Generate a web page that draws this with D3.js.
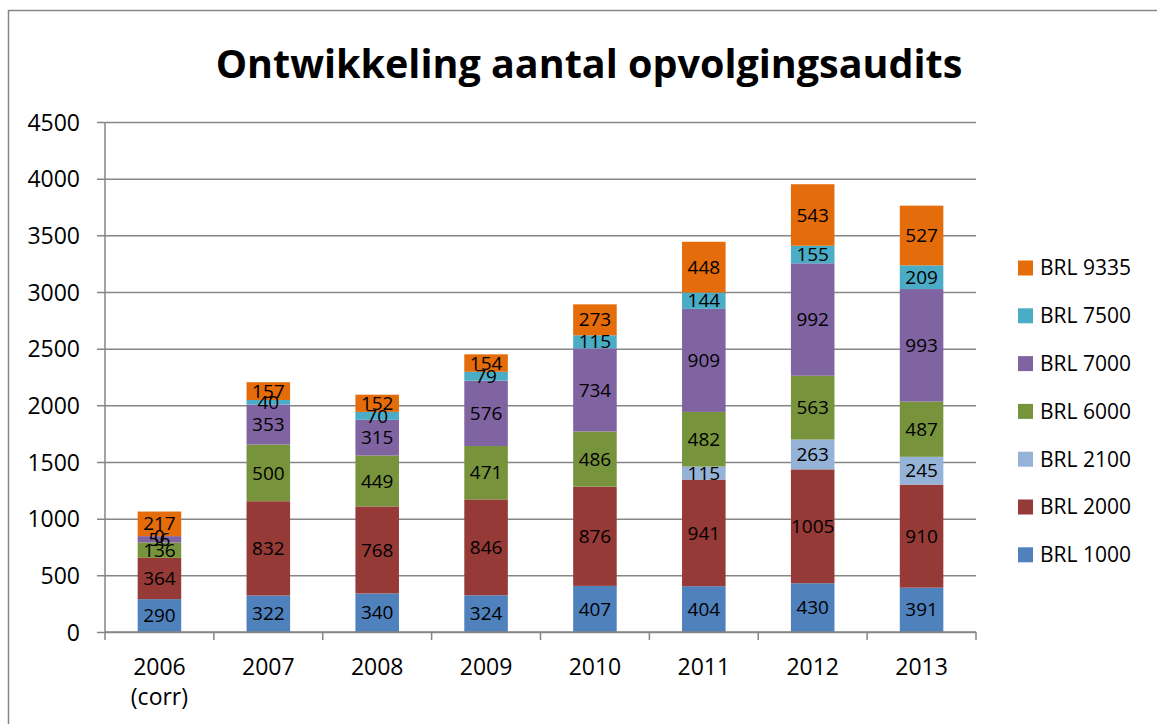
<!DOCTYPE html>
<html>
<head>
<meta charset="utf-8">
<script src="https://cdn.jsdelivr.net/npm/d3@7"></script>
<style>
  body { margin: 0; background: #fff; }
  text { font-family: 'Open Sans', sans-serif; fill: #000; }
</style>
</head>
<body>
<div id="chart"></div>
<script>
const years = ['2006\n(corr)', '2007', '2008', '2009', '2010', '2011', '2012', '2013'];
const seriesNames = ['BRL 1000', 'BRL 2000', 'BRL 2100', 'BRL 6000', 'BRL 7000', 'BRL 7500', 'BRL 9335'];
const brl1000 = [290, 322, 340, 324, 407, 404, 430, 391];
const brl2000 = [364, 832, 768, 846, 876, 941, 1005, 910];
const brl2100 = [null, null, null, null, null, 115, 263, 245];
const brl6000 = [136, 500, 449, 471, 486, 482, 563, 487];
const brl7000 = [56, 353, 315, 576, 734, 909, 992, 993];
const brl7500 = [0, 40, 70, 79, 115, 144, 155, 209];
const brl9335 = [217, 157, 152, 154, 273, 448, 543, 527];
const yTicks = [0, 500, 1000, 1500, 2000, 2500, 3000, 3500, 4000, 4500];
const colors = ['#4f81bd', '#963a37', '#95b3d7', '#77933c', '#8064a2', '#4bacc6', '#e46c0a'];

const values = [brl1000, brl2000, brl2100, brl6000, brl7000, brl7500, brl9335];
const data = years.map((y, i) => {
  const row = {year: y};
  seriesNames.forEach((s, j) => row[s] = values[j][i]);
  return row;
});

const W = 1157, H = 724;
const margin = {top: 122, right: 181, bottom: 92, left: 105};
const width = W - margin.left - margin.right;
const height = H - margin.top - margin.bottom;

const svg = d3.select('#chart')
  .append('svg')
  .attr('width', W)
  .attr('height', H);

svg.append('rect')
  .attr('x', 8.5).attr('y', 10.5)
  .attr('width', W + 10).attr('height', H + 10)
  .attr('fill', 'none')
  .attr('stroke', '#868686')
  .attr('stroke-width', 1.5);

svg.append('text')
  .attr('x', 589).attr('y', 78)
  .attr('text-anchor', 'middle')
  .style('font-size', '39.5px')
  .style('font-weight', 'bold')
  .text('Ontwikkeling aantal opvolgingsaudits');

const g = svg.append('g')
  .attr('transform', `translate(${margin.left}, ${margin.top})`);

const x = d3.scaleBand()
  .domain(years)
  .range([0, width])
  .paddingInner(0.6)
  .paddingOuter(0.3);
const y = d3.scaleLinear()
  .domain([0, 4500])
  .range([height, 0]);

// gridlines + y axis
const yAxis = g.append('g')
  .call(d3.axisLeft(y).tickValues(yTicks).tickFormat(d3.format('d'))
    .tickSize(-width - 8).tickSizeOuter(0).tickPadding(17));
yAxis.select('.domain').remove();
yAxis.selectAll('.tick line')
  .attr('x1', -8).attr('x2', width)
  .attr('stroke', '#868686').attr('stroke-width', 1.5);
yAxis.selectAll('.tick text')
  .style('font-family', 'Open Sans')
  .style('font-size', '23px')
  .attr('x', -25)
  .attr('dy', '0.35em');
g.append('line')
  .attr('x1', 0).attr('x2', 0).attr('y1', 0).attr('y2', height)
  .attr('stroke', '#868686').attr('stroke-width', 1.5);

const stack = d3.stack()
  .keys(seriesNames)
  .value((d, k) => d[k] == null ? 0 : d[k]);
const layers = stack(data);

const layer = g.selectAll('.layer')
  .data(layers)
  .join('g')
  .attr('class', 'layer')
  .attr('fill', (d, i) => colors[i]);

layer.selectAll('rect')
  .data(d => d)
  .join('rect')
  .attr('x', d => x(d.data.year))
  .attr('y', d => y(d[1]))
  .attr('width', x.bandwidth())
  .attr('height', d => y(d[0]) - y(d[1]));

// x axis
const xAxis = g.append('g')
  .attr('transform', `translate(0, ${height})`);
xAxis.append('line')
  .attr('x1', 0).attr('x2', width)
  .attr('stroke', '#868686').attr('stroke-width', 1.5);
const step = x.step();
xAxis.selectAll('.xtick')
  .data(d3.range(years.length + 1))
  .join('line')
  .attr('x1', i => i * step).attr('x2', i => i * step)
  .attr('y1', 0).attr('y2', 8)
  .attr('stroke', '#868686').attr('stroke-width', 1.5);
const xl = xAxis.selectAll('.xlabel')
  .data(years)
  .join('text')
  .attr('text-anchor', 'middle')
  .attr('transform', d => `translate(${x(d) + x.bandwidth() / 2}, 43)`)
  .style('font-size', '23px');
xl.selectAll('tspan')
  .data(d => d.split('\n'))
  .join('tspan')
  .attr('x', 0)
  .attr('dy', (d, i) => i === 0 ? 0 : 30)
  .text(d => d);

// value labels
layers.forEach((ser, i) => {
  g.append('g').selectAll('text')
    .data(ser.filter(d => d.data[ser.key] != null))
    .join('text')
    .attr('x', d => x(d.data.year) + x.bandwidth() / 2)
    .attr('y', d => (y(d[0]) + y(d[1])) / 2)
    .attr('dy', '0.35em')
    .attr('text-anchor', 'middle')
    .style('font-size', '19px')
    .text(d => d.data[ser.key]);
});

// legend
const legend = svg.append('g')
  .attr('transform', 'translate(1018, 268)');
const items = legend.selectAll('g')
  .data(seriesNames.slice().reverse())
  .join('g')
  .attr('transform', (d, i) => `translate(0, ${i * 47.8})`);
items.append('rect')
  .attr('x', 0).attr('y', -7.5)
  .attr('width', 15).attr('height', 15)
  .attr('fill', d => colors[seriesNames.indexOf(d)]);
items.append('text')
  .attr('x', 22).attr('dy', '0.35em')
  .style('font-size', '21px')
  .text(d => d);
</script>
</body>
</html>
